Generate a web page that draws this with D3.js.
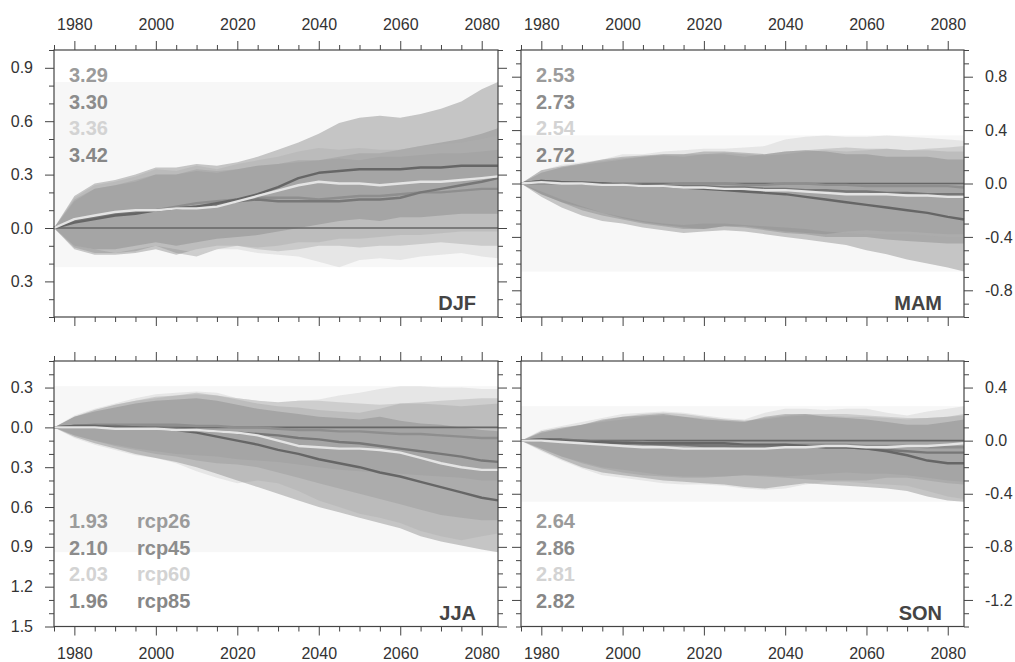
<!DOCTYPE html>
<html>
<head>
<meta charset="utf-8">
<script src="https://cdn.jsdelivr.net/npm/d3@7"></script>
<style>
  body { margin: 0; background: #fff; }
  svg { display: block; }
  text { font-family: "Liberation Sans", Arial, Helvetica, sans-serif; }
</style>
</head>
<body>
<svg id="chart" width="1015" height="662"></svg>
<script>
// ---- time axis -------------------------------------------------------------
const years = [1975, 1980, 1985, 1990, 1995, 2000, 2005, 2010, 2015, 2020, 2025, 2030,
               2035, 2040, 2045, 2050, 2055, 2060, 2065, 2070, 2075, 2080, 2084];
const yearTicks = [1980, 2000, 2020, 2040, 2060, 2080];
const scenarios = ["rcp26", "rcp45", "rcp60", "rcp85"];

// ---- DJF -------------------------------------------------------------------
const djfMean26 = [0, .04, .06, .08, .09, .10, .12, .14, .15, .16, .17, .17, .17, .16, .17, .18, .18, .19, .20, .20, .21, .22, .22];
const djfLow26  = [0, -.11, -.14, -.14, -.13, -.10, -.14, -.16, -.12, -.10, -.11, -.10, -.08, -.08, -.06, -.06, -.05, -.04, -.04, -.03, -.02, -.02, -.02];
const djfHigh26 = [0, .16, .22, .24, .27, .30, .30, .33, .32, .33, .35, .36, .37, .38, .39, .38, .40, .40, .41, .42, .42, .43, .44];
const djfMean45 = [0, .04, .06, .08, .09, .10, .11, .12, .13, .15, .16, .15, .15, .15, .15, .16, .16, .17, .20, .22, .24, .26, .28];
const djfLow45  = [0, -.12, -.15, -.15, -.14, -.12, -.15, -.12, -.10, -.10, -.12, -.13, -.12, -.10, -.10, -.11, -.10, -.10, -.09, -.08, -.09, -.10, -.10];
const djfHigh45 = [0, .15, .22, .24, .26, .30, .30, .32, .31, .33, .35, .36, .38, .38, .40, .42, .42, .44, .46, .48, .50, .53, .56];
const djfMean60 = [0, .05, .07, .09, .10, .10, .11, .11, .12, .15, .18, .21, .24, .26, .25, .25, .24, .25, .26, .26, .27, .28, .29];
const djfLow60  = [0, -.10, -.12, -.14, -.12, -.10, -.12, -.14, -.12, -.12, -.14, -.15, -.16, -.19, -.22, -.18, -.17, -.18, -.16, -.15, -.14, -.16, -.17];
const djfHigh60 = [0, .17, .24, .26, .29, .33, .32, .35, .33, .36, .38, .40, .43, .45, .44, .45, .44, .44, .46, .47, .48, .50, .52];
const djfMean85 = [0, .03, .05, .07, .08, .10, .11, .12, .14, .16, .19, .23, .28, .31, .32, .33, .33, .33, .34, .34, .35, .35, .35];
const djfLow85  = [0, -.10, -.12, -.12, -.10, -.08, -.10, -.08, -.06, -.05, -.04, -.02, 0, .02, .04, .05, .04, .06, .06, .07, .08, .08, .08];
const djfHigh85 = [0, .18, .25, .27, .30, .34, .34, .36, .35, .37, .40, .44, .48, .53, .59, .62, .63, .62, .64, .67, .71, .78, .82];
const djfTickValues = [-0.3, 0, 0.3, 0.6, 0.9];
const djfTickLabels = ["0.3", "0.0", "0.3", "0.6", "0.9"];
const djfScores = ["3.29", "3.30", "3.36", "3.42"];

// ---- MAM -------------------------------------------------------------------
const mamMean26 = [0, .01, .01, 0, 0, 0, -.01, -.01, 0, 0, 0, -.01, -.01, 0, 0, -.01, -.01, -.02, -.02, -.02, -.02, -.02, -.03];
const mamLow26  = [0, -.08, -.14, -.18, -.22, -.26, -.29, -.31, -.33, -.34, -.32, -.32, -.34, -.36, -.37, -.38, -.36, -.35, -.36, -.36, -.37, -.38, -.38];
const mamHigh26 = [0, .08, .12, .15, .17, .19, .20, .22, .22, .22, .23, .22, .21, .22, .24, .25, .24, .25, .26, .25, .26, .27, .28];
const mamMean45 = [0, .02, .01, .01, 0, -.01, -.01, -.02, -.02, -.02, -.03, -.03, -.04, -.04, -.05, -.05, -.06, -.06, -.07, -.07, -.08, -.08, -.08];
const mamLow45  = [0, -.08, -.14, -.20, -.24, -.27, -.30, -.32, -.34, -.34, -.32, -.33, -.35, -.37, -.38, -.40, -.40, -.40, -.42, -.43, -.44, -.45, -.45];
const mamHigh45 = [0, .08, .12, .14, .16, .18, .20, .21, .20, .22, .22, .20, .22, .24, .25, .26, .27, .26, .26, .25, .25, .24, .24];
const mamMean60 = [0, .01, 0, 0, -.01, -.01, -.02, -.02, -.03, -.03, -.04, -.04, -.05, -.05, -.06, -.07, -.08, -.08, -.08, -.09, -.09, -.10, -.10];
const mamLow60  = [0, -.06, -.12, -.17, -.22, -.25, -.28, -.30, -.31, -.30, -.30, -.31, -.32, -.33, -.34, -.36, -.37, -.38, -.38, -.38, -.39, -.40, -.40];
const mamHigh60 = [0, .10, .14, .16, .18, .22, .22, .24, .25, .26, .26, .27, .28, .33, .35, .36, .35, .35, .36, .35, .34, .33, .32];
const mamMean85 = [0, .02, .01, 0, 0, -.01, -.02, -.02, -.03, -.04, -.05, -.06, -.07, -.08, -.10, -.12, -.14, -.16, -.18, -.20, -.22, -.25, -.27];
const mamLow85  = [0, -.10, -.18, -.24, -.28, -.30, -.33, -.35, -.37, -.36, -.35, -.36, -.38, -.40, -.42, -.44, -.46, -.50, -.53, -.57, -.60, -.63, -.66];
const mamHigh85 = [0, .10, .13, .15, .18, .20, .21, .22, .22, .24, .24, .23, .22, .24, .25, .24, .22, .22, .20, .20, .20, .18, .18];
const mamTickValues = [-0.8, -0.4, 0, 0.4, 0.8];
const mamTickLabels = ["-0.8", "-0.4", "0.0", "0.4", "0.8"];
const mamScores = ["2.53", "2.73", "2.54", "2.72"];

// ---- JJA -------------------------------------------------------------------
const jjaMean26 = [0, .01, .02, .02, .02, .02, .02, .01, .01, 0, 0, -.01, -.02, -.02, -.03, -.03, -.04, -.05, -.05, -.06, -.07, -.08, -.08];
const jjaLow26  = [0, -.06, -.10, -.13, -.16, -.18, -.20, -.21, -.22, -.24, -.25, -.26, -.28, -.30, -.32, -.33, -.34, -.35, -.36, -.37, -.38, -.40, -.40];
const jjaHigh26 = [0, .08, .13, .17, .20, .22, .24, .25, .24, .22, .20, .19, .20, .20, .19, .18, .17, .18, .19, .20, .21, .22, .22];
const jjaMean45 = [0, .01, .01, .01, 0, 0, -.01, -.02, -.03, -.04, -.05, -.06, -.08, -.09, -.11, -.12, -.14, -.16, -.18, -.20, -.22, -.25, -.26];
const jjaLow45  = [0, -.06, -.10, -.14, -.17, -.20, -.22, -.25, -.27, -.28, -.30, -.34, -.38, -.42, -.46, -.50, -.54, -.58, -.62, -.66, -.68, -.70, -.70];
const jjaHigh45 = [0, .08, .13, .17, .20, .23, .24, .26, .24, .21, .18, .16, .15, .13, .12, .11, .14, .18, .18, .17, .16, .17, .18];
const jjaMean60 = [0, 0, 0, -.01, -.01, -.01, -.02, -.02, -.03, -.04, -.06, -.10, -.14, -.15, -.16, -.16, -.17, -.19, -.23, -.27, -.30, -.32, -.32];
const jjaLow60  = [0, -.08, -.13, -.17, -.21, -.23, -.27, -.33, -.38, -.42, -.40, -.42, -.48, -.55, -.60, -.65, -.68, -.72, -.78, -.82, -.85, -.82, -.80];
const jjaHigh60 = [0, .09, .14, .18, .22, .25, .26, .27, .26, .22, .20, .18, .20, .21, .24, .26, .29, .31, .31, .30, .30, .29, .29];
const jjaMean85 = [0, .01, .01, 0, 0, -.01, -.02, -.04, -.07, -.10, -.13, -.17, -.20, -.24, -.27, -.30, -.34, -.37, -.41, -.45, -.49, -.53, -.55];
const jjaLow85  = [0, -.07, -.12, -.16, -.20, -.23, -.26, -.30, -.35, -.40, -.45, -.50, -.55, -.60, -.64, -.68, -.72, -.76, -.82, -.86, -.89, -.92, -.94];
const jjaHigh85 = [0, .08, .12, .15, .18, .20, .21, .22, .20, .17, .14, .12, .10, .08, .07, .06, .08, .05, .03, .02, 0, -.02, -.03];
const jjaTickValues = [-1.5, -1.2, -0.9, -0.6, -0.3, 0, 0.3];
const jjaTickLabels = ["1.5", "1.2", "0.9", "0.6", "0.3", "0.0", "0.3"];
const jjaScores = ["1.93", "2.10", "2.03", "1.96"];

// ---- SON -------------------------------------------------------------------
const sonMean26 = [0, .01, 0, 0, -.01, -.01, -.01, -.02, -.02, -.03, -.03, -.04, -.04, -.03, -.03, -.03, -.03, -.04, -.04, -.04, -.05, -.05, -.05];
const sonLow26  = [0, -.06, -.12, -.16, -.20, -.22, -.24, -.26, -.27, -.27, -.27, -.26, -.26, -.27, -.26, -.25, -.24, -.25, -.25, -.26, -.28, -.30, -.31];
const sonHigh26 = [0, .06, .09, .12, .14, .16, .18, .19, .18, .17, .16, .15, .16, .18, .19, .19, .18, .18, .17, .16, .17, .18, .19];
const sonMean45 = [0, .01, .01, 0, -.01, -.01, -.02, -.03, -.03, -.04, -.04, -.05, -.05, -.04, -.04, -.05, -.05, -.06, -.07, -.08, -.09, -.09, -.09];
const sonLow45  = [0, -.06, -.12, -.17, -.21, -.24, -.26, -.27, -.28, -.28, -.27, -.26, -.27, -.28, -.29, -.30, -.30, -.30, -.28, -.28, -.30, -.32, -.33];
const sonHigh45 = [0, .06, .09, .12, .15, .18, .20, .21, .20, .18, .16, .15, .17, .19, .20, .20, .20, .19, .18, .17, .17, .18, .20];
const sonMean60 = [0, 0, -.01, -.02, -.03, -.04, -.05, -.05, -.06, -.06, -.06, -.06, -.06, -.05, -.05, -.04, -.04, -.05, -.05, -.04, -.04, -.03, -.02];
const sonLow60  = [0, -.08, -.15, -.21, -.26, -.28, -.30, -.32, -.33, -.33, -.34, -.36, -.37, -.36, -.33, -.31, -.31, -.32, -.33, -.34, -.38, -.42, -.44];
const sonHigh60 = [0, .08, .11, .14, .17, .20, .21, .22, .21, .19, .17, .16, .21, .24, .24, .23, .24, .24, .21, .19, .22, .24, .26];
const sonMean85 = [0, .01, 0, -.01, -.01, -.02, -.02, -.02, -.02, -.02, -.02, -.03, -.03, -.03, -.04, -.05, -.05, -.06, -.08, -.11, -.15, -.17, -.17];
const sonLow85  = [0, -.07, -.14, -.20, -.24, -.26, -.28, -.30, -.31, -.32, -.33, -.35, -.36, -.34, -.32, -.33, -.34, -.35, -.36, -.38, -.42, -.45, -.46];
const sonHigh85 = [0, .07, .10, .12, .16, .18, .19, .20, .18, .16, .15, .14, .18, .20, .20, .18, .17, .16, .14, .12, .12, .14, .16];
const sonTickValues = [-1.2, -0.8, -0.4, 0, 0.4];
const sonTickLabels = ["-1.2", "-0.8", "-0.4", "0.0", "0.4"];
const sonScores = ["2.64", "2.86", "2.81", "2.82"];

// ---- styling ---------------------------------------------------------------
const textColor  = { rcp26: "#9b9b9b", rcp45: "#8c8c8c", rcp60: "#d3d3d3", rcp85: "#878787" };
const bandColor  = { rcp26: "#9a9a9a", rcp45: "#8a8a8a", rcp60: "#d0d0d0", rcp85: "#878787" };
const lineColor  = { rcp26: "#8e8e8e", rcp45: "#777777", rcp60: "#e4e4e4", rcp85: "#666666" };
const axisColor = "#444";
const labelColor = "#333";

const panels = [
  { name: "DJF", box: [54, 50, 498, 317], yDomain: [-0.5, 1.0], ySide: "left", xSide: "top",
    tickValues: djfTickValues, tickLabels: djfTickLabels, scores: djfScores, scoreTop: 82, names: false,
    series: {
      rcp26: [djfMean26, djfLow26, djfHigh26], rcp45: [djfMean45, djfLow45, djfHigh45],
      rcp60: [djfMean60, djfLow60, djfHigh60], rcp85: [djfMean85, djfLow85, djfHigh85] } },
  { name: "MAM", box: [521, 50, 964, 317], yDomain: [-1.0, 1.0], ySide: "right", xSide: "top",
    tickValues: mamTickValues, tickLabels: mamTickLabels, scores: mamScores, scoreTop: 82, names: false,
    series: {
      rcp26: [mamMean26, mamLow26, mamHigh26], rcp45: [mamMean45, mamLow45, mamHigh45],
      rcp60: [mamMean60, mamLow60, mamHigh60], rcp85: [mamMean85, mamLow85, mamHigh85] } },
  { name: "JJA", box: [54, 361, 498, 626.5], yDomain: [-1.5, 0.5], ySide: "left", xSide: "bottom",
    tickValues: jjaTickValues, tickLabels: jjaTickLabels, scores: jjaScores, scoreTop: 528, names: true,
    series: {
      rcp26: [jjaMean26, jjaLow26, jjaHigh26], rcp45: [jjaMean45, jjaLow45, jjaHigh45],
      rcp60: [jjaMean60, jjaLow60, jjaHigh60], rcp85: [jjaMean85, jjaLow85, jjaHigh85] } },
  { name: "SON", box: [521, 361, 964, 626.5], yDomain: [-1.4, 0.6], ySide: "right", xSide: "bottom",
    tickValues: sonTickValues, tickLabels: sonTickLabels, scores: sonScores, scoreTop: 528, names: false,
    series: {
      rcp26: [sonMean26, sonLow26, sonHigh26], rcp45: [sonMean45, sonLow45, sonHigh45],
      rcp60: [sonMean60, sonLow60, sonHigh60], rcp85: [sonMean85, sonLow85, sonHigh85] } }
];

const svg = d3.select("#chart");
const MAJOR = 9, MINOR = 5;

function styleAxis(g) {
  g.select(".domain").remove();
  g.selectAll(".tick line").attr("stroke", axisColor).attr("stroke-width", 1);
  g.selectAll(".tick text").attr("fill", labelColor).style("font-size", "16px");
}

panels.forEach(p => {
  const [x0, y0, x1, y1] = p.box;
  const x = d3.scaleLinear().domain([1975, 2084]).range([x0, x1]);
  const y = d3.scaleLinear().domain(p.yDomain).range([y1, y0]);
  const g = svg.append("g");

  // faint backdrop spanning the full range of all envelopes
  const allLow = d3.min(scenarios, s => d3.min(p.series[s][1]));
  const allHigh = d3.max(scenarios, s => d3.max(p.series[s][2]));
  g.append("rect")
    .attr("x", x(1975)).attr("width", x(2084) - x(1975))
    .attr("y", y(allHigh)).attr("height", y(allLow) - y(allHigh))
    .attr("fill", "#f7f7f7");

  // ensemble spread envelopes
  const area = d3.area()
    .x((d, i) => x(years[i]))
    .y0(d => y(d[0]))
    .y1(d => y(d[1]));
  scenarios.forEach(s => {
    const [, lo, hi] = p.series[s];
    g.append("path")
      .datum(lo.map((v, i) => [v, hi[i]]))
      .attr("d", area)
      .attr("fill", bandColor[s])
      .attr("fill-opacity", 0.45);
  });

  // zero reference
  g.append("line")
    .attr("x1", x0).attr("x2", x1)
    .attr("y1", y(0)).attr("y2", y(0))
    .attr("stroke", "#666").attr("stroke-width", 1.6);

  // ensemble means
  const line = d3.line().x((d, i) => x(years[i])).y(d => y(d));
  ["rcp26", "rcp45", "rcp85", "rcp60"].forEach(s => {
    g.append("path")
      .datum(p.series[s][0])
      .attr("d", line)
      .attr("fill", "none")
      .attr("stroke", lineColor[s])
      .attr("stroke-width", 2.4)
      .attr("stroke-linejoin", "round");
  });

  // frame
  g.append("rect")
    .attr("x", x0).attr("y", y0).attr("width", x1 - x0).attr("height", y1 - y0)
    .attr("fill", "none").attr("stroke", axisColor).attr("stroke-width", 1.2);

  // x axes (top and bottom), labels on the outer side only
  const xMinor = d3.range(1975, 2085, 5).filter(v => !yearTicks.includes(v));
  [["top", d3.axisTop, y0], ["bottom", d3.axisBottom, y1]].forEach(([side, mk, yy]) => {
    g.append("g").attr("transform", `translate(0,${yy})`)
      .call(mk(x).tickValues(yearTicks).tickSize(MAJOR).tickSizeOuter(0)
        .tickPadding(side === "top" ? 11 : 12)
        .tickFormat(side === p.xSide ? d3.format("d") : ""))
      .call(styleAxis);
    g.append("g").attr("transform", `translate(0,${yy})`)
      .call(mk(x).tickValues(xMinor).tickSize(MINOR).tickSizeOuter(0).tickFormat(""))
      .call(styleAxis);
  });

  // y axes (left and right), labels on the outer side only
  const lo = Math.round(p.yDomain[0] * 10), hi = Math.round(p.yDomain[1] * 10);
  const yMinor = d3.range(lo, hi + 1).map(v => v / 10)
    .filter(v => !p.tickValues.some(t => Math.abs(t - v) < 1e-6));
  [["left", d3.axisLeft, x0], ["right", d3.axisRight, x1]].forEach(([side, mk, xx]) => {
    g.append("g").attr("transform", `translate(${xx},0)`)
      .call(mk(y).tickValues(p.tickValues).tickSize(MAJOR).tickSizeOuter(0).tickPadding(12)
        .tickFormat(side === p.ySide ? ((d, i) => p.tickLabels[i]) : ""))
      .call(styleAxis);
    g.append("g").attr("transform", `translate(${xx},0)`)
      .call(mk(y).tickValues(yMinor).tickSize(MINOR).tickSizeOuter(0).tickFormat(""))
      .call(styleAxis);
  });

  // per-scenario scores (and scenario names in one panel)
  scenarios.forEach((s, i) => {
    const by = p.scoreTop + i * 26.5;
    g.append("text")
      .attr("x", x0 + 15).attr("y", by)
      .attr("fill", textColor[s])
      .style("font-size", "20px").style("font-weight", "bold")
      .text(p.scores[i]);
    if (p.names) {
      g.append("text")
        .attr("x", x0 + 83).attr("y", by)
        .attr("fill", textColor[s])
        .style("font-size", "20px").style("font-weight", "bold")
        .text(s);
    }
  });

  // season label
  g.append("text")
    .attr("x", x1 - 22).attr("y", y1 - 7)
    .attr("text-anchor", "end")
    .attr("fill", "#444")
    .style("font-size", "20px").style("font-weight", "bold")
    .text(p.name);
});
</script>
</body>
</html>
